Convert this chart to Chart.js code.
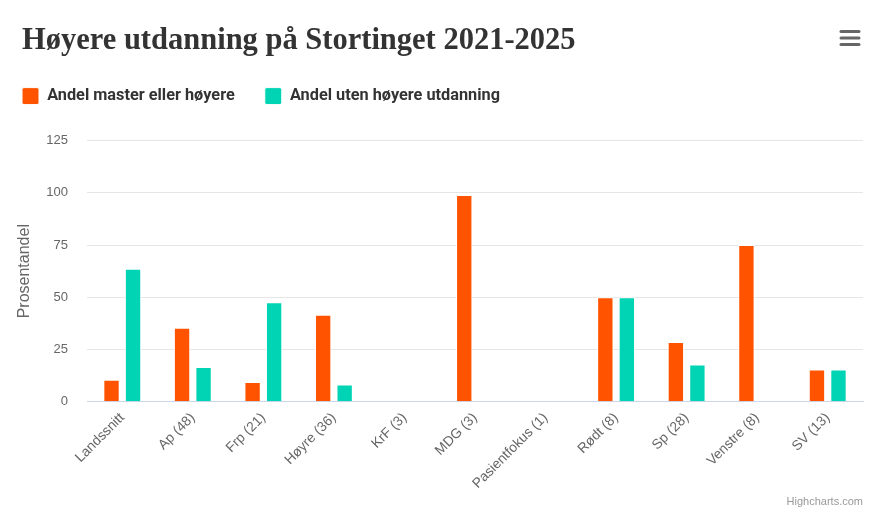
<!DOCTYPE html>
<html lang="no">
<head>
<meta charset="utf-8">
<title>Høyere utdanning på Stortinget 2021-2025</title>
<script src="https://cdn.jsdelivr.net/npm/chart.js@4/dist/chart.umd.min.js"></script>
<style>
    html, body { margin: 0; padding: 0; background: #ffffff; }
    #wrap { position: relative; width: 889px; height: 514px; }
</style>
</head>
<body>
<div id="wrap"><canvas id="utdanningChart"></canvas></div>
<script>
// Partier (antall representanter) og andeler i prosent
const categories = ['Landssnitt', 'Ap (48)', 'Frp (21)', 'Høyre (36)', 'KrF (3)', 'MDG (3)',
    'Pasientfokus (1)', 'Rødt (8)', 'Sp (28)', 'Venstre (8)', 'SV (13)'];
const masterEllerHoyere = [10.6, 35.4, 9.5, 41.7, 0, 99, 0, 50, 28.6, 75, 15.4];
const utenHoyereUtdanning = [63.7, 16.7, 47.6, 8.3, 0, 0, 0, 50, 17.9, 0, 15.4];
const yTicks = [0, 25, 50, 75, 100, 125];

const colorMaster = '#ff5300';
const colorUten = '#00d4b5';
const colorText = '#333333';
const colorAxisText = '#666666';
const legendPadding = 30;

// Ekstra luft under legenden, og legenden flyttet inn til venstremargen
const legendSpacing = {
    id: 'legendSpacing',
    beforeInit(chart) {
        const originalFit = chart.legend.fit;
        chart.legend.fit = function fit() {
            originalFit.bind(chart.legend)();
            this.height += 26;
        };
    },
    afterLayout(chart) {
        chart.legend.left -= legendPadding;
    }
};

// Menyikon og kreditering, slik som i Highcharts-originalen
const extras = {
    id: 'extras',
    afterDraw(chart) {
        const ctx = chart.ctx;
        ctx.save();
        ctx.strokeStyle = '#666666';
        ctx.lineWidth = 3;
        ctx.lineCap = 'round';
        [31.5, 38, 44.5].forEach(y => {
            ctx.beginPath();
            ctx.moveTo(841, y);
            ctx.lineTo(859, y);
            ctx.stroke();
        });
        ctx.fillStyle = '#999999';
        ctx.font = '11px "Liberation Sans", Arial, sans-serif';
        ctx.textAlign = 'right';
        ctx.textBaseline = 'alphabetic';
        ctx.fillText('Highcharts.com', 863, 505);
        ctx.restore();
    }
};

new Chart(document.getElementById('utdanningChart'), {
    type: 'bar',
    data: {
        labels: categories,
        datasets: [{
            label: 'Andel master eller høyere',
            data: masterEllerHoyere,
            backgroundColor: colorMaster,
            borderColor: '#ffffff',
            borderWidth: 1
        }, {
            label: 'Andel uten høyere utdanning',
            data: utenHoyereUtdanning,
            backgroundColor: colorUten,
            borderColor: '#ffffff',
            borderWidth: 1
        }]
    },
    options: {
        responsive: true,
        maintainAspectRatio: false,
        animation: false,
        categoryPercentage: 0.61,
        barPercentage: 0.76,
        layout: {
            padding: { left: 22, right: 26, top: 0, bottom: 14 }
        },
        plugins: {
            title: {
                display: true,
                text: 'Høyere utdanning på Stortinget 2021-2025',
                align: 'start',
                color: colorText,
                font: { family: '"Liberation Serif", "Times New Roman", serif', size: 30.5, weight: 'bold' },
                padding: { top: 23, bottom: -2 }
            },
            legend: {
                position: 'top',
                align: 'start',
                labels: {
                    color: colorText,
                    boxWidth: 17,
                    boxHeight: 17,
                    useBorderRadius: true,
                    borderRadius: 2,
                    padding: legendPadding,
                    font: { family: 'Roboto, "Liberation Sans", sans-serif', size: 16.3, weight: 'bold' }
                }
            },
            tooltip: { enabled: false }
        },
        scales: {
            x: {
                border: { color: '#ccd6eb', width: 1 },
                grid: { display: false, drawTicks: false },
                ticks: {
                    color: colorAxisText,
                    font: { family: '"Liberation Sans", Arial, sans-serif', size: 13.8 },
                    maxRotation: 45,
                    minRotation: 45,
                    autoSkip: false,
                    padding: 8
                },
                afterFit(axis) {
                    axis.paddingLeft = 0;
                }
            },
            y: {
                min: 0,
                max: 125,
                afterBuildTicks(axis) {
                    axis.ticks = yTicks.map(v => ({ value: v }));
                },
                afterFit(axis) {
                    axis.width = 65;
                },
                border: { display: false },
                grid: { color: '#e6e6e6', drawTicks: false },
                ticks: {
                    color: colorAxisText,
                    font: { family: '"Liberation Sans", Arial, sans-serif', size: 13 },
                    padding: 19
                },
                title: {
                    display: true,
                    text: 'Prosentandel',
                    color: colorAxisText,
                    font: { family: '"Liberation Sans", Arial, sans-serif', size: 16 },
                    padding: { top: -7, bottom: 0 }
                }
            }
        }
    },
    plugins: [legendSpacing, extras]
});
</script>
</body>
</html>
